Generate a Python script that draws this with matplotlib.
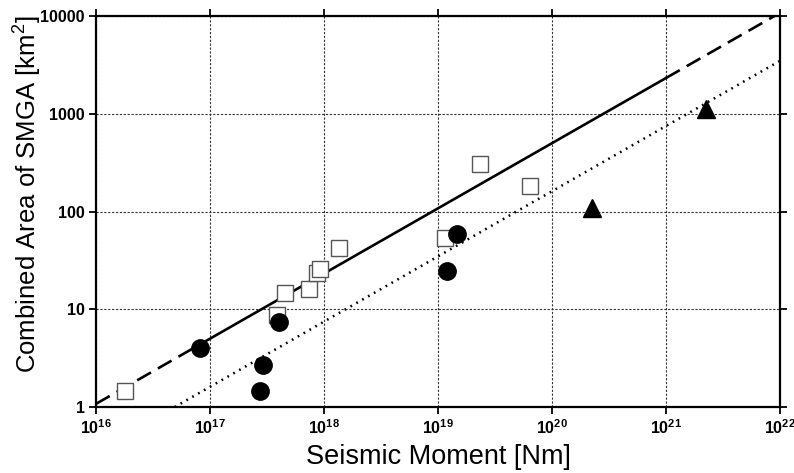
import matplotlib
matplotlib.use("Agg")
import matplotlib.pyplot as plt

plt.rcParams['font.family'] = ['Liberation Sans', 'DejaVu Sans']
plt.rcParams['mathtext.fontset'] = 'custom'
plt.rcParams['mathtext.rm'] = 'Liberation Sans'
plt.rcParams['mathtext.bf'] = 'Liberation Sans:bold'

# data (moment in Nm, area in km^2)
sq_m0 = [1.8e16, 3.85e17, 4.55e17, 7.4e17, 8.7e17, 9.2e17, 1.36e18, 1.16e19, 2.33e19, 6.4e19]
sq_area = [1.46, 8.7, 14.6, 16.1, 23.7, 25.6, 42, 53, 304, 182]

circ_m0 = [8.2e16, 2.75e17, 2.94e17, 4.0e17, 1.19e19, 1.48e19]
circ_area = [3.98, 1.46, 2.69, 7.46, 24.8, 58.4]

tri_m0 = [2.24e20, 2.23e21]
tri_area = [108, 1120]

# scaling-law line: dashed ends, solid middle
law_m0 = [1e16, 8e16, 1e21, 1e22]
law_area = [1.077, 4.31, 2321, 10772]

# dotted line
dot_m0 = [4.9e16, 1e22]
dot_area = [1.0, 3480]

xtick_vals = [1e16, 1e17, 1e18, 1e19, 1e20, 1e21, 1e22]
xtick_labels = [r'$\mathbf{10^{%d}}$' % e for e in range(16, 23)]
ytick_vals = [1, 10, 100, 1000, 10000]
ytick_labels = ['1', '10', '100', '1000', '10000']

fig = plt.figure(figsize=(7.94, 4.73), dpi=100)
ax = fig.add_axes([0.1209, 0.1395, 0.8615, 0.8267])
ax.set_xscale('log')
ax.set_yscale('log')
ax.set_xlim(1e16, 1e22)
ax.set_ylim(1, 10000)

ax.plot(law_m0[:2], law_area[:2], color='black', lw=1.9, ls=(0, (6, 3)), zorder=3)
ax.plot(law_m0[1:3], law_area[1:3], color='black', lw=1.9, zorder=3)
ax.plot(law_m0[2:], law_area[2:], color='black', lw=1.9, ls=(0, (6, 3)), zorder=3)
ax.plot(dot_m0, dot_area, color='black', lw=1.8, ls=(0, (0.7, 2.0)), zorder=3)

ax.plot(sq_m0, sq_area, ls='none', marker='s', ms=11.5, mfc='white', mec='#555555', mew=1.0, zorder=4)
ax.plot(circ_m0, circ_area, ls='none', marker='o', ms=12.5, mfc='black', mec='black', zorder=5)
ax.plot(tri_m0, tri_area, ls='none', marker='^', ms=12.5, mfc='black', mec='black', zorder=5)

ax.minorticks_off()
ax.set_xticks(xtick_vals)
ax.set_xticklabels(xtick_labels)
ax.set_yticks(ytick_vals)
ax.set_yticklabels(ytick_labels)
ax.tick_params(which='major', direction='out', length=5, width=1.3,
               top=True, right=True, labelsize=11.5, pad=3)
for lab in ax.get_yticklabels():
    lab.set_fontweight('bold')

ax.grid(True, which='major', color='#333333', lw=0.8, ls=(0, (2, 1.5)))
for sp in ax.spines.values():
    sp.set_linewidth(1.6)

ax.set_xlabel('Seismic Moment [Nm]', fontsize=19.5, labelpad=5)
ax.set_ylabel('Combined Area of SMGA [km$^2$]', fontsize=18.5)
ax.yaxis.set_label_coords(-0.078, 0.545)

fig.savefig('out.png', dpi=100)
